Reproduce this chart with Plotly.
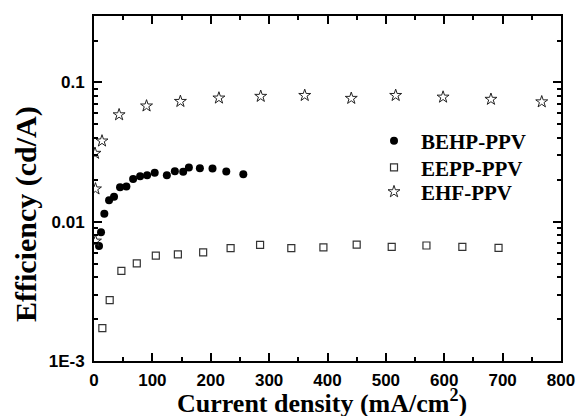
import plotly.graph_objects as go

# BEHP-PPV (filled circles)
behp_x = [8.6, 12, 17.7, 25.8, 34.3, 44.6, 55.5, 67, 79, 91, 104, 124.8, 138.5, 152.8, 162.5, 181.4, 203, 226.6, 255.8]
behp_y = [0.0067, 0.0084, 0.0114, 0.01426, 0.0151, 0.01766, 0.0179, 0.0203, 0.0212, 0.0216, 0.0225, 0.0216, 0.0230, 0.0228, 0.0245, 0.0242, 0.0241, 0.0229, 0.0219]

# EEPP-PPV (open squares)
eepp_x = [14.3, 26.9, 46.9, 73.3, 105.9, 143.7, 187, 234, 284.5, 338, 393, 450, 510, 569.5, 631, 693]
eepp_y = [0.00172, 0.00274, 0.00443, 0.00502, 0.0057, 0.00583, 0.00603, 0.00647, 0.00681, 0.00647, 0.00655, 0.00684, 0.0066, 0.00675, 0.0066, 0.0065]

# EHF-PPV (open stars)
ehf_x = [2.5, 2.5, 1.7, 13.7, 43, 90, 148, 214, 285.6, 361, 440.7, 516.8, 598, 680, 767]
ehf_y = [0.00726, 0.0172, 0.031, 0.038, 0.0586, 0.0678, 0.0731, 0.0773, 0.0795, 0.0807, 0.0769, 0.0807, 0.0785, 0.0757, 0.0726]

series_names = ["BEHP-PPV", "EEPP-PPV", "EHF-PPV"]
y_tickvals = [0.001, 0.01, 0.1]
y_ticktext = ["1E-3", "0.01", "0.1"]
x_tickvals = [0, 100, 200, 300, 400, 500, 600, 700, 800]
x_title = "Current density (mA/cm<sup>2</sup>)"
y_title = "Efficiency (cd/A)"

fig = go.Figure()
fig.add_trace(go.Scatter(x=behp_x, y=behp_y, mode="markers", name="<b>" + series_names[0] + "</b>",
                         legend="legend",
                         marker=dict(symbol="circle", size=8, color="black")))
fig.add_trace(go.Scatter(x=eepp_x, y=eepp_y, mode="markers", name="<b>" + series_names[1] + "</b>",
                         legend="legend2",
                         marker=dict(symbol="square-open", size=7, color="#333333",
                                     line=dict(width=1.2))))
fig.add_trace(go.Scatter(x=ehf_x, y=ehf_y, mode="markers", name="<b>" + series_names[2] + "</b>",
                         legend="legend3",
                         marker=dict(symbol="star-open", size=9, color="#222222",
                                     line=dict(width=1))))

minor_y = [m * 10 ** e for e in (-3, -2, -1) for m in range(2, 10) if m * 10 ** e <= 0.3]

def leg(yc):
    return dict(x=0.5846, y=yc, xanchor="left", yanchor="middle",
                bgcolor="rgba(0,0,0,0)", itemwidth=44,
                font=dict(family="Liberation Serif", size=21, color="black"),
                itemsizing="trace")

fig.update_layout(
    width=577, height=416,
    margin=dict(l=94, r=16, t=16, b=55),
    paper_bgcolor="white", plot_bgcolor="white",
    showlegend=True,
    legend=leg(0.6375), legend2=leg(0.560), legend3=leg(0.4897),
    xaxis=dict(range=[0, 800], tickvals=x_tickvals, ticktext=["<b>%d</b>" % v for v in x_tickvals],
               showline=True, linecolor="black", linewidth=2, mirror="ticks",
               ticks="inside", ticklen=8, tickwidth=2, tickcolor="black",
               showgrid=False, zeroline=False, automargin=False, ticklabelstandoff=3,
               minor=dict(dtick=50, tick0=0, ticks="inside", ticklen=4, tickwidth=2,
                          tickcolor="black", showgrid=False),
               tickfont=dict(family="Liberation Sans", size=17, color="black")),
    yaxis=dict(type="log", range=[-3, -0.5229], tickvals=y_tickvals,
               ticktext=["<b>" + t + "</b>" for t in y_ticktext],
               showline=True, linecolor="black", linewidth=2, mirror="ticks",
               ticks="inside", ticklen=8, tickwidth=2, tickcolor="black",
               showgrid=False, zeroline=False, automargin=False, ticklabelstandoff=4,
               minor=dict(tickmode="array", tickvals=minor_y, ticks="inside", ticklen=4,
                          tickwidth=2, tickcolor="black", showgrid=False),
               tickfont=dict(family="Liberation Sans", size=17, color="black")),
    annotations=[
        dict(text="<b>" + x_title + "</b>", xref="paper", yref="paper",
             x=0.489, y=-0.118, xanchor="center", yanchor="middle", showarrow=False,
             font=dict(family="Liberation Serif", size=26, color="black")),
        dict(text="<b>" + y_title + "</b>", xref="paper", yref="paper", textangle=-90,
             x=-0.1456, y=0.426, xanchor="center", yanchor="middle", showarrow=False,
             font=dict(family="Liberation Serif", size=30, color="black")),
    ],
)

fig.write_html("out.html", config={"displayModeBar": False},
               post_script="document.body.style.margin='0';document.body.style.overflow='hidden';")
